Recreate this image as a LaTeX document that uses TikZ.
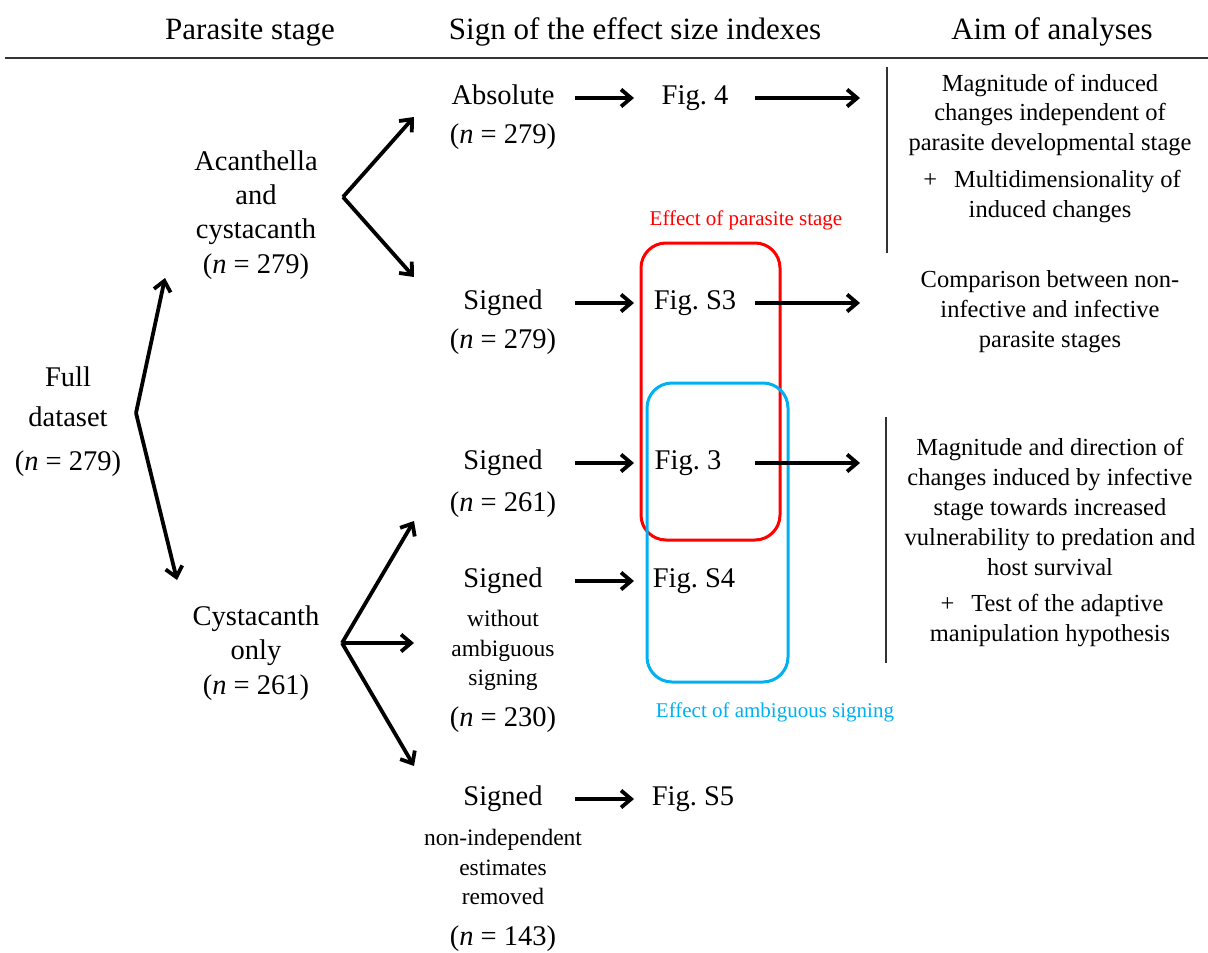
\documentclass[tikz,border=0pt]{standalone}
\usepackage{fontspec}
\setmainfont{Liberation Serif}
\usetikzlibrary{arrows.meta}
\definecolor{myred}{RGB}{255,0,0}
\definecolor{myblue}{RGB}{0,176,240}
\begin{document}
\begin{tikzpicture}[x=1pt,y=-1pt,
  txt/.style={inner sep=0pt, text height=20pt, text depth=7pt, font=\fontsize{28.5}{34}\selectfont},
  subtxt/.style={inner sep=0pt, text height=16.5pt, text depth=6pt, font=\fontsize{23.5}{28}\selectfont},
  hdr/.style={inner sep=0pt, text height=22pt, text depth=7.5pt, font=\fontsize{31}{36}\selectfont},
  aim/.style={inner sep=0pt, text height=17pt, text depth=6pt, font=\fontsize{24.5}{30}\selectfont},
  lbl/.style={inner sep=0pt, text height=14.5pt, text depth=5pt, font=\fontsize{21}{25}\selectfont},
  arr/.style={line width=3.8pt, -{Straight Barb[length=10pt,width=17pt]}},
  rule/.style={line width=1.5pt, black!80},
  grp/.style={line width=3pt, rounded corners=25pt}
]
\useasboundingbox (0,0) rectangle (1208,953);

% header
\node[hdr] (h1) at (250,32) {Parasite stage};
\node[hdr] (h2) at (635,32) {Sign of the effect size indexes};
\node[hdr] (h3) at (1052,32) {Aim of analyses};
\draw[line width=2pt, black!80] (5,58) -- (1208,58);

% group boxes
\draw[grp, myred] (641,243) rectangle (780,540);
\draw[grp, myblue] (647,383) rectangle (788,682);
\node[lbl, text=myred] (lred) at (746,221) {Effect of parasite stage};
\node[lbl, text=myblue] (lblue) at (775,713) {Effect of ambiguous signing};

% left column
\node[txt] (full1) at (68,380) {Full};
\node[txt] (full2) at (68,420) {dataset};
\node[txt] (full3) at (68,464) {(\textit{n} = 279)};

\node[txt] (ac1) at (256,164) {Acanthella};
\node[txt] (ac2) at (256,198) {and};
\node[txt] (ac3) at (256,232) {cystacanth};
\node[txt] (ac4) at (256,267) {(\textit{n} = 279)};

\node[txt] (cy1) at (256,619) {Cystacanth};
\node[txt] (cy2) at (256,653) {only};
\node[txt] (cy3) at (256,688) {(\textit{n} = 261)};

% middle column
\node[txt] (abs1) at (503,98) {Absolute};
\node[txt] (abs2) at (503,137) {(\textit{n} = 279)};
\node[txt] (sa1) at (503,303) {Signed};
\node[txt] (sa2) at (503,342) {(\textit{n} = 279)};
\node[txt] (sb1) at (503,463) {Signed};
\node[txt] (sb2) at (503,505) {(\textit{n} = 261)};
\node[txt] (sc1) at (503,581) {Signed};
\node[subtxt] (sc2) at (503,621) {without};
\node[subtxt] (sc3) at (503,651) {ambiguous};
\node[subtxt] (sc4) at (503,680) {signing};
\node[txt] (sc5) at (503,720) {(\textit{n} = 230)};
\node[txt] (sd1) at (503,799) {Signed};
\node[subtxt] (sd2) at (503,840) {non-independent};
\node[subtxt] (sd3) at (503,870) {estimates};
\node[subtxt] (sd4) at (503,899) {removed};
\node[txt] (sd5) at (503,939) {(\textit{n} = 143)};

% figures
\node[txt] (f4) at (695,98) {Fig.~4};
\node[txt] (fs3) at (695,303) {Fig.~S3};
\node[txt] (f3) at (688,463) {Fig.~3};
\node[txt] (fs4) at (694,581) {Fig.~S4};
\node[txt] (fs5) at (693,799) {Fig.~S5};

% right column
\draw[rule] (887,67) -- (887,253);
\draw[rule] (886,417) -- (886,663);
\node[aim] (a1) at (1050,86) {Magnitude of induced};
\node[aim] (a2) at (1050,115) {changes independent of};
\node[aim] (a3) at (1050,145) {parasite developmental stage};
\node[aim] (a4) at (1052,182) {+\hspace{17pt}Multidimensionality of};
\node[aim] (a5) at (1050,212) {induced changes};
\node[aim] (b1) at (1050,282) {Comparison between non-};
\node[aim] (b2) at (1050,312) {infective and infective};
\node[aim] (b3) at (1050,342) {parasite stages};
\node[aim] (c1) at (1050,450) {Magnitude and direction of};
\node[aim] (c2) at (1050,480) {changes induced by infective};
\node[aim] (c3) at (1050,510) {stage towards increased};
\node[aim] (c4) at (1050,540) {vulnerability to predation and};
\node[aim] (c5) at (1050,570) {host survival};
\node[aim] (c6) at (1052,606) {+\hspace{17pt}Test of the adaptive};
\node[aim] (c7) at (1050,636) {manipulation hypothesis};

% fork coordinates
\coordinate (v0) at (136,413);
\coordinate (e0u) at (165,278);
\coordinate (e0d) at (177,580);
\coordinate (v1) at (343,197);
\coordinate (e1u) at (414,117);
\coordinate (e1d) at (414,277);
\coordinate (v2) at (342,643);
\coordinate (e2u) at (414,521);
\coordinate (e2m) at (414,643);
\coordinate (e2d) at (414,766);
\draw[arr] (v0) -- (e0u);
\draw[arr] (v0) -- (e0d);
\draw[arr] (v1) -- (e1u);
\draw[arr] (v1) -- (e1d);
\draw[arr] (v2) -- (e2u);
\draw[arr] (v2) -- (e2m);
\draw[arr] (v2) -- (e2d);

% horizontal arrow columns
\coordinate (cA) at (575,0);
\coordinate (cB) at (634,0);
\coordinate (cC) at (755,0);
\coordinate (cD) at (860,0);
\draw[arr] (abs1 -| cA) -- (f4 -| cB);
\draw[arr] (sa1 -| cA) -- (fs3 -| cB);
\draw[arr] (sb1 -| cA) -- (f3 -| cB);
\draw[arr] (sc1 -| cA) -- (fs4 -| cB);
\draw[arr] (sd1 -| cA) -- (fs5 -| cB);
\draw[arr] (f4 -| cC) -- (f4 -| cD);
\draw[arr] (fs3 -| cC) -- (fs3 -| cD);
\draw[arr] (f3 -| cC) -- (f3 -| cD);
\end{tikzpicture}
\end{document}
